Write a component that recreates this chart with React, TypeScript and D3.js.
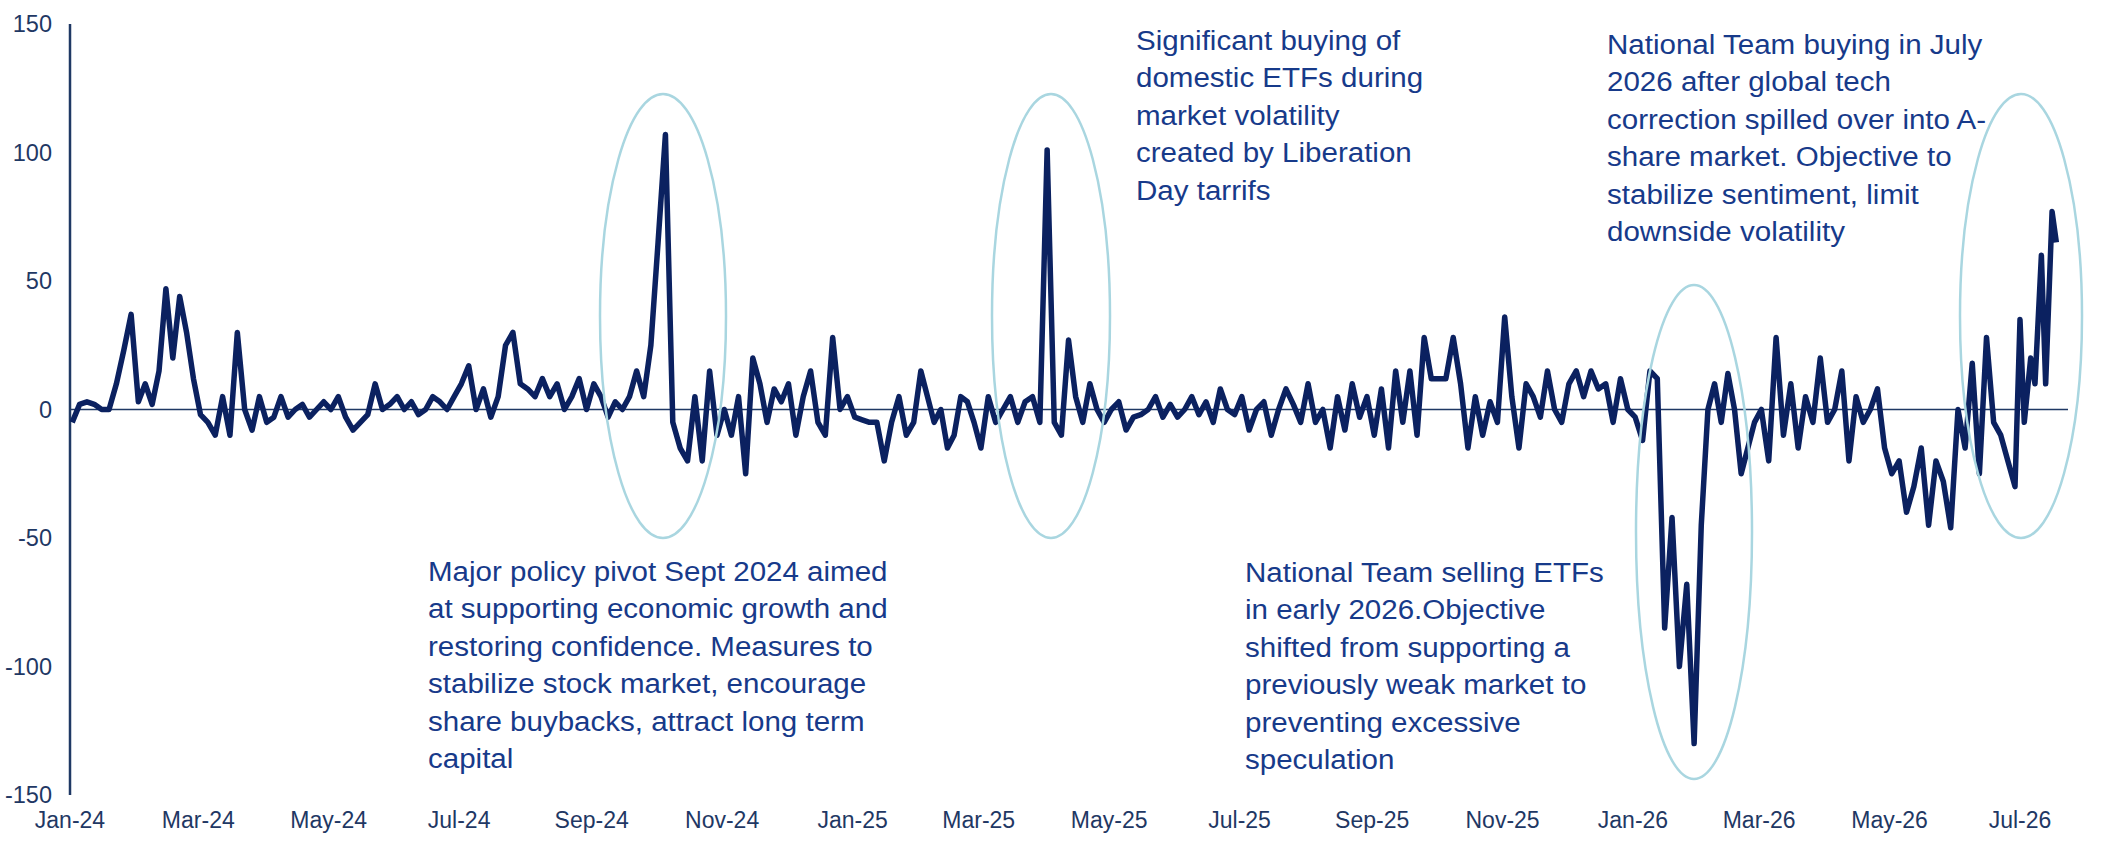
import React from "react";
import * as d3 from "d3";

const monthLabels = ["Jan-24","Mar-24","May-24","Jul-24","Sep-24","Nov-24","Jan-25","Mar-25","May-25","Jul-25","Sep-25","Nov-25","Jan-26","Mar-26","May-26","Jul-26"];
const yTicks = [150,100,50,0,-50,-100,-150];

// 9 readings per month, Jan-24 .. Jun-26
const monthly: number[][] = [
  [-5,2,3,2,0,0,10,23,37],
  [3,10,2,15,47,20,44,30,12],
  [-2,-5,-10,5,-10,30,0,-8,5],
  [-5,-3,5,-3,0,2,-3,0,3],
  [0,5,-3,-8,-5,-2,10,0,2],
  [5,0,3,-2,0,5,3,0,5],
  [10,17,0,8,-3,5,25,30,10],
  [8,5,12,5,10,0,5,12,0],
  [10,5,-3,3,0,5,15,5,25],
  [65,107,-5,-15,-20,5,-20,15,-10],
  [0,-10,5,-25,20,10,-5,8,3],
  [10,-10,5,15,-5,-10,28,0,5],
  [-3,-4,-5,-5,-20,-5,5,-10,-5],
  [15,5,-5,0,-15,-10,5,3,-5],
  [-15,5,-5,0,5,-5,3,5,-5],
  [101,-5,-10,27,5,-5,10,0,-5],
  [0,3,-8,-3,-2,0,5,-3,2],
  [-3,0,5,-2,3,-5,8,0,-2],
  [5,-8,0,3,-10,0,8,2,-5],
  [10,-5,0,-15,5,-8,10,-3,5],
  [-10,8,-15,15,-5,15,-10,28,12],
  [12,12,28,10,-15,5,-10,3,-5],
  [36,5,-15,10,5,-3,15,0,-5],
  [10,15,5,15,8,10,-5,12,0],
  [-3,-12,15,12,-85,-42,-100,-68,-130],
  [-45,0,10,-5,14,0,-25,-15,-5],
  [0,-20,28,-10,10,-15,5,-5,20],
  [-5,0,15,-20,5,-5,0,8,-15],
  [-25,-20,-40,-30,-15,-45,-20,-28,-46],
  [0,-15,18,-25,28,-5,-10,-20,-30],
];
const july26 = [35,-5,20,10,60,10,77,65];

type Pt = { date: Date; v: number };
const points: Pt[] = [];
monthly.forEach((vals, mi) => {
  const start = new Date(2024, mi, 1);
  const end = new Date(2024, mi + 1, 1);
  const span = (end.getTime() - start.getTime()) / vals.length;
  vals.forEach((v, i) => points.push({ date: new Date(start.getTime() + span * (i + 0.3)), v }));
});
july26.forEach((v, i) => points.push({ date: new Date(2026, 6, 1 + i * 2.5), v }));

const notes = [
  { x: 428, y: 571, lines: ["Major policy pivot Sept 2024 aimed","at supporting economic growth and","restoring confidence. Measures to","stabilize stock market, encourage","share buybacks, attract long term","capital"] },
  { x: 1136, y: 40, lines: ["Significant buying of","domestic ETFs during","market volatility","created by Liberation","Day tarrifs"] },
  { x: 1607, y: 44, lines: ["National Team buying in July","2026 after global tech","correction spilled over into A-","share market. Objective to","stabilize sentiment, limit","downside volatility"] },
  { x: 1245, y: 572, lines: ["National Team selling ETFs","in early 2026.Objective","shifted from supporting a","previously weak market to","preventing excessive","speculation"] },
];
const ellipses = [
  { cx: 663, cy: 316, rx: 63, ry: 222 },
  { cx: 1051, cy: 316, rx: 59, ry: 222 },
  { cx: 1694, cy: 532, rx: 58, ry: 247 },
  { cx: 2021, cy: 316, rx: 61, ry: 222 },
];

export default function App() {
  const x = d3.scaleTime().domain([new Date(2024, 0, 1), new Date(2026, 6, 1)]).range([70, 2020]);
  const y = d3.scaleLinear().domain([-150, 150]).range([795, 24]);
  const line = d3.line<Pt>().x(d => x(d.date)).y(d => y(d.v));
  const font = "'Liberation Sans', Arial, sans-serif";
  const sx = 1.055;
  return (
    <svg width={2112} height={857} style={{ position: "absolute", left: 0, top: 0, background: "#fff" }} fontFamily={font}>
      {yTicks.map(t => (
        <text key={t} x={52} y={y(t)} dy="0.35em" textAnchor="end" fontSize={23.5} fill="#1f3864">{t}</text>
      ))}
      {monthLabels.map((m, i) => (
        <text key={m} x={x(new Date(2024, i * 2, 1))} y={828} textAnchor="middle" fontSize={23} fill="#1f3864">{m}</text>
      ))}
      <line x1={70} x2={70} y1={24} y2={795} stroke="#1f3864" strokeWidth={2.5} />
      <line x1={70} x2={2068} y1={y(0)} y2={y(0)} stroke="#1f3864" strokeWidth={1.5} />
      <path d={line(points) || ""} fill="none" stroke="#0b2160" strokeWidth={5.5} strokeLinejoin="round" />
      {ellipses.map((e, i) => (
        <ellipse key={i} {...e} fill="none" stroke="#a9d6e0" strokeWidth={2.5} />
      ))}
      {notes.map((n, i) => (
        <g key={i} transform={`translate(${n.x},0) scale(${sx},1)`}>
          <text fontSize={28} fill="#173a8a">
            {n.lines.map((l, j) => (
              <tspan key={j} x={0} y={n.y + j * 37.5} dy="0.35em">{l}</tspan>
            ))}
          </text>
        </g>
      ))}
    </svg>
  );
}
